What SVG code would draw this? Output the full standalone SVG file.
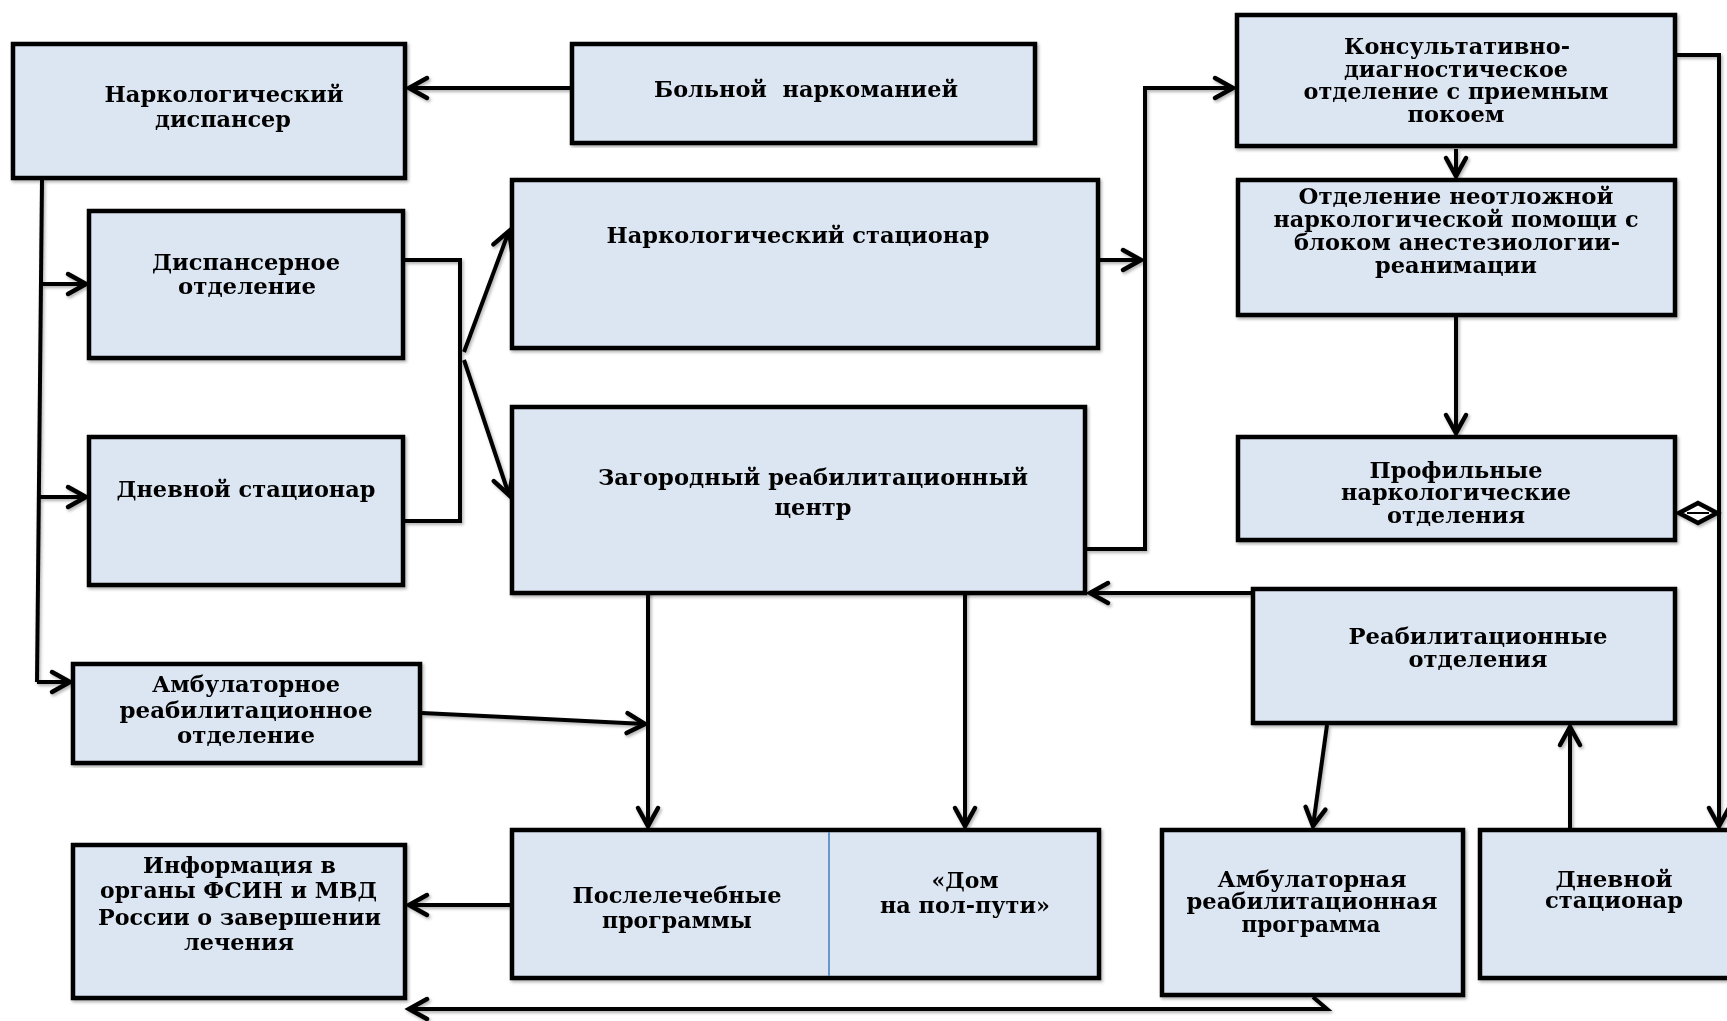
<svg xmlns="http://www.w3.org/2000/svg" width="1727" height="1021" viewBox="0 0 1727 1021">
<defs>
<style>
.box{fill:#dce6f2;stroke:#000;stroke-width:4.5;}
.t{font-family:"DejaVu Serif","Liberation Serif",serif;font-weight:bold;font-size:23px;fill:#000;text-anchor:middle;}
.c{fill:none;stroke:#000;stroke-width:4;stroke-linejoin:miter;}
.a{marker-end:url(#ah);}
</style>
<marker id="ah" markerUnits="userSpaceOnUse" markerWidth="26" markerHeight="26" refX="21" refY="12" orient="auto" overflow="visible">
<path d="M3,2 L21,12 L3,22" fill="none" stroke="#000" stroke-width="4.5" stroke-linecap="round" stroke-linejoin="miter"/>
</marker>
<filter id="sh" x="-5%" y="-5%" width="110%" height="110%">
<feDropShadow dx="1.5" dy="2" stdDeviation="1.5" flood-color="#000" flood-opacity="0.3"/>
</filter>
</defs>
<rect width="1727" height="1021" fill="#fff"/>

<g id="connectors" filter="url(#sh)">
<path class="c a" d="M570,88 L409,88"/>
<path class="c" d="M42,180 L37,682"/>
<path class="c a" d="M37,682 L70,682"/>
<path class="c a" d="M41,284 L86,284"/>
<path class="c a" d="M40,497 L86,497"/>
<path class="c" d="M405,260 L460,260 L460,521 L405,521"/>
<path class="c a" d="M464,352 L509,231"/>
<path class="c a" d="M464,360 L509,495"/>
<path class="c a" d="M1100,260 L1141,260"/>
<path class="c a" d="M1087,549 L1145,549 L1145,88 L1233,88"/>
<path class="c a" d="M1456,149 L1456,176"/>
<path class="c a" d="M1456,317 L1456,433"/>
<path class="c a" d="M1677,55 L1719,55 L1719,826"/>
<path class="c a" d="M1251,593 L1090,593"/>
<path class="c a" d="M1327,725 L1313,826"/>
<path class="c a" d="M1570,828 L1570,727"/>
<path class="c a" d="M648,590 L648,826"/>
<path class="c a" d="M965,590 L965,826"/>
<path class="c a" d="M422,713 L645,724"/>
<path class="c a" d="M510,905 L409,905"/>
<path class="c a" d="M1313,997 L1327,1009 L409,1009"/>
<polygon points="1679,513 1698,503 1717,513 1698,523" fill="#fff" stroke="#000" stroke-width="4.5"/>
<line x1="1687" y1="513" x2="1709" y2="513" stroke="#000" stroke-width="2"/>
</g>

<g id="n1" filter="url(#sh)">
<rect class="box" x="13" y="44" width="392" height="134"/>
<text class="t" x="224" y="102" textLength="239" lengthAdjust="spacingAndGlyphs">Наркологический</text>
<text class="t" x="223" y="127" textLength="136" lengthAdjust="spacingAndGlyphs">диспансер</text>
</g>
<g id="n2" filter="url(#sh)">
<rect class="box" x="572" y="44" width="463" height="99"/>
<text class="t" x="806" y="97" textLength="304" lengthAdjust="spacingAndGlyphs">Больной&#160; наркоманией</text>
</g>
<g id="n3" filter="url(#sh)">
<rect class="box" x="1237" y="15" width="438" height="131"/>
<text class="t" x="1457" y="54" textLength="226" lengthAdjust="spacingAndGlyphs">Консультативно-</text>
<text class="t" x="1456" y="77" textLength="224" lengthAdjust="spacingAndGlyphs">диагностическое</text>
<text class="t" x="1456" y="99" textLength="305" lengthAdjust="spacingAndGlyphs">отделение с приемным</text>
<text class="t" x="1456" y="122" textLength="97" lengthAdjust="spacingAndGlyphs">покоем</text>
</g>
<g id="n4" filter="url(#sh)">
<rect class="box" x="1238" y="180" width="437" height="135"/>
<text class="t" x="1456" y="204" textLength="315" lengthAdjust="spacingAndGlyphs">Отделение неотложной</text>
<text class="t" x="1456" y="227" textLength="365" lengthAdjust="spacingAndGlyphs">наркологической помощи с</text>
<text class="t" x="1457" y="250" textLength="326" lengthAdjust="spacingAndGlyphs">блоком анестезиологии-</text>
<text class="t" x="1456" y="273" textLength="162" lengthAdjust="spacingAndGlyphs">реанимации</text>
</g>
<g id="n5" filter="url(#sh)">
<rect class="box" x="1238" y="437" width="437" height="103"/>
<text class="t" x="1456" y="478" textLength="173" lengthAdjust="spacingAndGlyphs">Профильные</text>
<text class="t" x="1456" y="500" textLength="230" lengthAdjust="spacingAndGlyphs">наркологические</text>
<text class="t" x="1456" y="523" textLength="138" lengthAdjust="spacingAndGlyphs">отделения</text>
</g>
<g id="n6" filter="url(#sh)">
<rect class="box" x="89" y="211" width="314" height="147"/>
<text class="t" x="246" y="270" textLength="188" lengthAdjust="spacingAndGlyphs">Диспансерное</text>
<text class="t" x="247" y="294" textLength="138" lengthAdjust="spacingAndGlyphs">отделение</text>
</g>
<g id="n7" filter="url(#sh)">
<rect class="box" x="89" y="437" width="314" height="148"/>
<text class="t" x="246" y="497" textLength="259" lengthAdjust="spacingAndGlyphs">Дневной стационар</text>
</g>
<g id="n8" filter="url(#sh)">
<rect class="box" x="512" y="180" width="586" height="168"/>
<text class="t" x="798" y="243" textLength="383" lengthAdjust="spacingAndGlyphs">Наркологический стационар</text>
</g>
<g id="n9" filter="url(#sh)">
<rect class="box" x="512" y="407" width="573" height="186"/>
<text class="t" x="813" y="485" textLength="430" lengthAdjust="spacingAndGlyphs">Загородный реабилитационный</text>
<text class="t" x="813" y="515" textLength="77" lengthAdjust="spacingAndGlyphs">центр</text>
</g>
<g id="n10" filter="url(#sh)">
<rect class="box" x="1253" y="589" width="422" height="134"/>
<text class="t" x="1478" y="644" textLength="259" lengthAdjust="spacingAndGlyphs">Реабилитационные</text>
<text class="t" x="1478" y="667" textLength="139" lengthAdjust="spacingAndGlyphs">отделения</text>
</g>
<g id="n11" filter="url(#sh)">
<rect class="box" x="73" y="664" width="347" height="99"/>
<text class="t" x="246" y="692" textLength="188" lengthAdjust="spacingAndGlyphs">Амбулаторное</text>
<text class="t" x="246" y="718" textLength="253" lengthAdjust="spacingAndGlyphs">реабилитационное</text>
<text class="t" x="246" y="743" textLength="138" lengthAdjust="spacingAndGlyphs">отделение</text>
</g>
<g id="n12" filter="url(#sh)">
<rect class="box" x="73" y="845" width="332" height="153"/>
<text class="t" x="239.5" y="873" textLength="193" lengthAdjust="spacingAndGlyphs">Информация в</text>
<text class="t" x="238.5" y="898" textLength="277" lengthAdjust="spacingAndGlyphs">органы ФСИН и МВД</text>
<text class="t" x="239.5" y="925" textLength="283" lengthAdjust="spacingAndGlyphs">России о завершении</text>
<text class="t" x="239" y="950" textLength="110" lengthAdjust="spacingAndGlyphs">лечения</text>
</g>
<g id="n13" filter="url(#sh)">
<rect class="box" x="512" y="830" width="587" height="148"/>
<line x1="829" y1="832" x2="829" y2="976" stroke="#4f81bd" stroke-width="1.6"/>
<text class="t" x="677" y="903" textLength="209" lengthAdjust="spacingAndGlyphs">Послелечебные</text>
<text class="t" x="677" y="928" textLength="150" lengthAdjust="spacingAndGlyphs">программы</text>
<text class="t" x="965" y="888" textLength="67" lengthAdjust="spacingAndGlyphs">«Дом</text>
<text class="t" x="965" y="913" textLength="170" lengthAdjust="spacingAndGlyphs">на пол-пути»</text>
</g>
<g id="n14" filter="url(#sh)">
<rect class="box" x="1162" y="830" width="301" height="165"/>
<text class="t" x="1312" y="887" textLength="189" lengthAdjust="spacingAndGlyphs">Амбулаторная</text>
<text class="t" x="1312" y="909" textLength="251" lengthAdjust="spacingAndGlyphs">реабилитационная</text>
<text class="t" x="1311" y="932" textLength="139" lengthAdjust="spacingAndGlyphs">программа</text>
</g>
<g id="n15" filter="url(#sh)">
<rect class="box" x="1480" y="830" width="270" height="148"/>
<text class="t" x="1614" y="887" textLength="117" lengthAdjust="spacingAndGlyphs">Дневной</text>
<text class="t" x="1614" y="908" textLength="138" lengthAdjust="spacingAndGlyphs">стационар</text>
</g>
</svg>
